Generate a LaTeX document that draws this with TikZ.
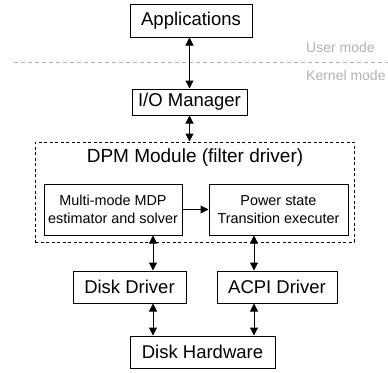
\documentclass[tikz,border=0pt]{standalone}
\usepackage{fontspec}
\setmainfont{Liberation Sans}
\usetikzlibrary{arrows.meta}
\definecolor{modegray}{HTML}{B4B4B4}
\tikzset{
  box/.style={draw=black, line width=1pt, inner sep=0pt, font=\fontsize{18.5}{20}\selectfont},
  smallbox/.style={draw=black, line width=1pt, inner sep=0pt, align=center, font=\fontsize{14.4}{18}\selectfont},
  link/.style={line width=1pt, {Triangle[length=8pt,width=8pt]}-{Triangle[length=8pt,width=8pt]}},
  onelink/.style={line width=1pt, -{Triangle[length=8pt,width=8pt]}},
  modelabel/.style={text=modegray, inner sep=0pt, anchor=west, font=\fontsize{14}{16}\selectfont}
}
\begin{document}
\begin{tikzpicture}[x=1pt,y=-1pt]
\useasboundingbox (0,0) rectangle (388,372);

% user/kernel boundary
\draw[modegray, line width=0.9pt, dash pattern=on 4pt off 3pt] (14,62) -- (388,62);
\node[modelabel] (user) at (306,47) {User mode};
\node[modelabel] (kernel) at (306,75) {Kernel mode};

% stack of components
\node[box, minimum width=122pt, minimum height=33pt] (app) at (191,20.5) {Applications};
\node[box, minimum width=115pt, minimum height=26pt] (iom) at (189.5,102) {I/O Manager};

\node[draw=black, line width=1pt, dash pattern=on 3pt off 2.5pt, minimum width=319pt, minimum height=100pt, inner sep=0pt] (dpm) at (194.5,192) {};
\node[inner sep=0pt, font=\fontsize{19}{21}\selectfont] (dpmtitle) at (195,158) {DPM Module (filter driver)};

\node[smallbox, minimum width=138pt, minimum height=51pt] (mdp) at (113,209.5) {Multi-mode MDP\\estimator and solver};
\node[smallbox, minimum width=139pt, minimum height=51pt] (pwr) at (278.5,209.5) {Power state\\Transition executer};

\node[box, minimum width=113pt, minimum height=32pt] (dd) at (129.5,287) {Disk Driver};
\node[box, minimum width=120pt, minimum height=32pt] (acpi) at (277,287) {ACPI Driver};
\node[box, minimum width=145pt, minimum height=32pt] (hw) at (202.5,352) {Disk Hardware};

% columns for the vertical connectors
\coordinate (lx) at (153,0);
\coordinate (rx) at (254,0);

\draw[link] (iom.north |- app.south) -- (iom.north);
\draw[link] (iom.south) -- (iom.south |- dpm.north);
\draw[onelink] (mdp.east) -- (pwr.west);
\draw[link] (mdp.south -| lx) -- (dd.north -| lx);
\draw[link] (pwr.south -| rx) -- (acpi.north -| rx);
\draw[link] (dd.south -| lx) -- (hw.north -| lx);
\draw[link] (acpi.south -| rx) -- (hw.north -| rx);
\end{tikzpicture}
\end{document}
